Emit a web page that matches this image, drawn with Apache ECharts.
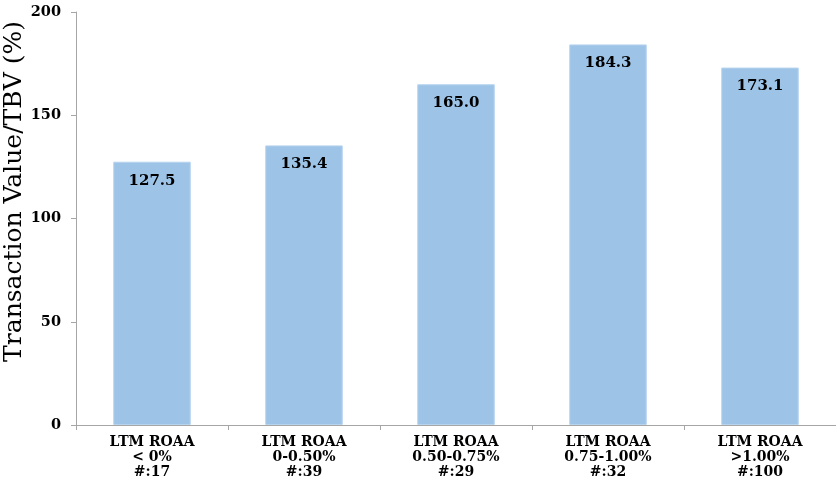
<!DOCTYPE html>
<html>
<head>
<meta charset="utf-8">
<script src="https://cdn.jsdelivr.net/npm/echarts@6/dist/echarts.min.js"></script>
<style>
html,body{margin:0;padding:0;background:#fff;}
#chart{width:836px;height:489px;}
</style>
</head>
<body>
<div id="chart"></div>
<script>
var categories = ['LTM ROAA\n< 0%\n#:17', 'LTM ROAA\n0-0.50%\n#:39', 'LTM ROAA\n0.50-0.75%\n#:29', 'LTM ROAA\n0.75-1.00%\n#:32', 'LTM ROAA\n>1.00%\n#:100'];
var values = [127.5, 135.4, 165.0, 184.3, 173.1];
var yTicks = { min: 0, max: 200, interval: 50 };
var yName = 'Transaction Value/TBV (%)';

var serif = 'DejaVu Serif';
var chart = echarts.init(document.getElementById('chart'), null, { renderer: 'canvas' });
chart.setOption({
  animation: false,
  grid: { left: 76, right: 0, top: 12, bottom: 64, containLabel: false, outerBoundsMode: 'none' },
  xAxis: {
    type: 'category',
    data: categories,
    axisLine: { lineStyle: { color: '#A6A6A6', width: 1 } },
    axisTick: { show: true, length: 5, lineStyle: { color: '#A6A6A6' } },
    axisLabel: {
      color: '#000', fontFamily: serif, fontWeight: 'bold', fontSize: 14,
      lineHeight: 15, margin: 10, interval: 0
    }
  },
  yAxis: {
    type: 'value',
    min: yTicks.min, max: yTicks.max, interval: yTicks.interval,
    name: yName,
    nameLocation: 'middle',
    nameGap: 49,
    nameMoveOverlap: false,
    nameTextStyle: { color: '#000', fontFamily: serif, fontSize: 25, padding: [0, 0, 0, 54] },
    axisLine: { show: true, lineStyle: { color: '#A6A6A6', width: 1 } },
    axisTick: { show: true, length: 5, lineStyle: { color: '#A6A6A6' } },
    splitLine: { show: false },
    axisLabel: { color: '#000', fontFamily: serif, fontWeight: 'bold', fontSize: 14.5, margin: 15 }
  },
  series: [{
    type: 'bar',
    data: values,
    barWidth: '51%',
    itemStyle: { color: '#9DC3E6', borderColor: '#B7D4EF', borderWidth: 1 },
    label: {
      show: true, position: 'insideTop', distance: 11.5,
      color: '#000', fontFamily: serif, fontWeight: 'bold', fontSize: 15,
      formatter: function (p) { return p.value.toFixed(1); }
    }
  }]
});
</script>
</body>
</html>
